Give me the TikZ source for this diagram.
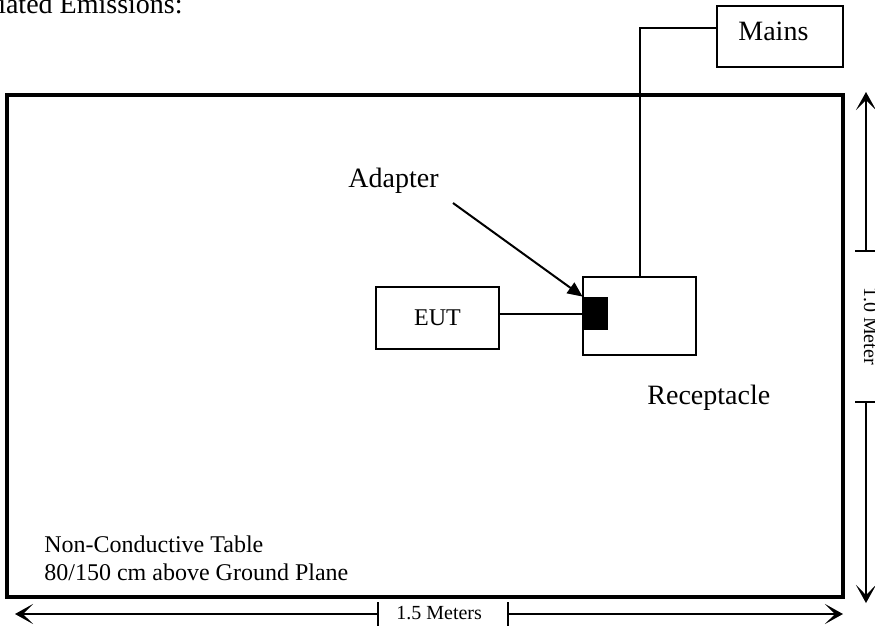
\documentclass[tikz,border=0pt]{standalone}
\usepackage{fontspec}
\setmainfont{Liberation Serif}
\usetikzlibrary{arrows.meta}
\begin{document}
\begin{tikzpicture}[x=0.5pt,y=-0.5pt,
  box/.style={draw, line width=1pt, inner sep=0pt},
  wire/.style={line width=1pt},
  dimline/.style={line width=0.8pt},
  dimtip/.style={-{Stealth[length=9pt,width=10pt,inset=5pt]}},
  txt/.style={inner sep=0pt, anchor=base west},
  big/.style={font=\fontsize{14pt}{16pt}\selectfont},
  mid/.style={font=\fontsize{12pt}{14pt}\selectfont},
  small/.style={font=\fontsize{10pt}{12pt}\selectfont}
]
\useasboundingbox (0,0) rectangle (875,628);

% title
\node[big, inner sep=0pt, anchor=base east] (title) at (183,13) {Radiated Emissions:};

% table
\node[draw, line width=1.6pt, inner sep=0pt, minimum width=418pt, minimum height=251pt] (table) at (425,346) {};

% mains
\node[box, minimum width=63pt, minimum height=30.5pt] (mains) at (780,36.5) {};
\node[txt, big] (mainstxt) at (738,40) {Mains};

% receptacle
\node[box, minimum width=56.5pt, minimum height=39pt] (recept) at (639.5,316) {};
\node[txt, big] (recepttxt) at (647,404) {Receptacle};

% adapter block
\node[fill=black, inner sep=0pt, minimum width=12.5pt, minimum height=16.5pt] (adapter) at (595.5,313.5) {};

% EUT
\node[box, mid, minimum width=61.5pt, minimum height=31pt] (eut) at (437.5,318) {EUT};

% wires
\draw[wire] ([yshift=4.25pt]mains.west) -| (recept.north);
\draw[wire] (eut.east |- adapter.west) -- (adapter.west);

% adapter label and arrow
\node[txt, big] (adaptertxt) at (348,187) {Adapter};
\coordinate (arrstart) at (453,203);
\draw[wire, -{Triangle[length=7.5pt,width=6.5pt]}] (arrstart) -- (adapter.north west);

% table label
\node[txt, mid] (tab1) at (44,552) {Non-Conductive Table};
\node[txt, mid] (tab2) at (44,580) {80/150 cm above Ground Plane};

% bottom dimension
\coordinate (bl) at (15,614);
\coordinate (br) at (843,614);
\coordinate (bt1) at (378,614);
\coordinate (bt2) at (508,614);
\draw[dimline] ([yshift=6pt]bt1) -- ([yshift=-6pt]bt1);
\draw[dimline] ([yshift=6pt]bt2) -- ([yshift=-6pt]bt2);
\draw[dimline, dimtip] (bt1) -- (bl);
\draw[dimline, dimtip] (bt2) -- (br);
\node[txt, small] (wlbl) at (396,619) {1.5 Meters};

% right dimension
\coordinate (rt) at (866,92);
\coordinate (rb) at (866,603);
\coordinate (rt1) at (866,251);
\coordinate (rt2) at (866,402);
\draw[dimline] ([xshift=-5.5pt]rt1) -- ([xshift=5.5pt]rt1);
\draw[dimline] ([xshift=-5.5pt]rt2) -- ([xshift=5.5pt]rt2);
\draw[dimline, dimtip] (rt1) -- (rt);
\draw[dimline, dimtip] (rt2) -- (rb);
\node[small, rotate=-90, anchor=base, inner sep=0pt] (hlbl) at (864,326) {1.0 Meter};
\end{tikzpicture}
\end{document}
